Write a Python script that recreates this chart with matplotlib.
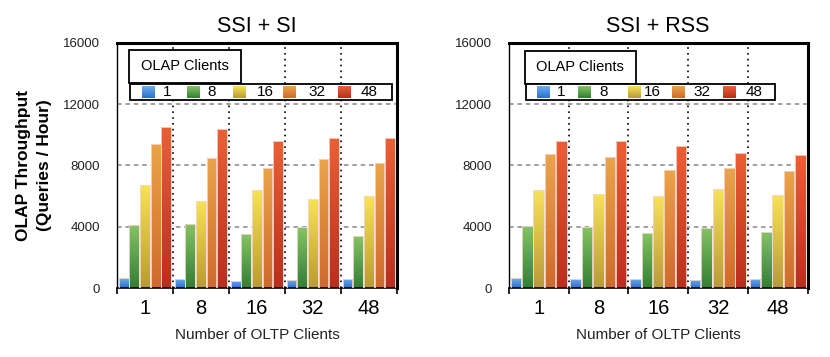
import numpy as np
from matplotlib import pyplot as plt
from matplotlib.colors import to_rgb
from matplotlib.patches import Rectangle

oltp_clients = ["1", "8", "16", "32", "48"]
olap_clients = ["1", "8", "16", "32", "48"]

# OLAP throughput (queries / hour), one list per OLAP client count
ssi_si = {
    "1": [650, 620, 480, 520, 590],
    "8": [4110, 4200, 3500, 3960, 3370],
    "16": [6700, 5680, 6400, 5810, 5980],
    "32": [9400, 8490, 7860, 8420, 8140],
    "48": [10500, 10360, 9600, 9770, 9780],
}
ssi_rss = {
    "1": [650, 610, 600, 540, 600],
    "8": [4050, 3960, 3610, 3920, 3660],
    "16": [6400, 6140, 5980, 6470, 6050],
    "32": [8730, 8560, 7700, 7840, 7640],
    "48": [9620, 9580, 9250, 8820, 8660],
}
panel_titles = ["SSI + SI", "SSI + RSS"]

# top / bottom colours of each bar gradient
grad = {
    "1": ("#6aaef0", "#2f6fcc"),
    "8": ("#86c463", "#327f34"),
    "16": ("#f7e25a", "#b99a3a"),
    "32": ("#eba44a", "#cf6a2c"),
    "48": ("#ec5f35", "#bb2e1e"),
}

plt.rcParams["font.family"] = ["Liberation Sans", "DejaVu Sans"]


def gradient_fill(ax, patch, top, bottom, transform=None, zorder=2):
    x0, y0 = patch.get_x(), patch.get_y()
    w, h = patch.get_width(), patch.get_height()
    t, b = np.array(to_rgb(top)), np.array(to_rgb(bottom))
    frac = np.linspace(0, 1, 64)[:, None]
    img = (t * (1 - frac) + b * frac)[:, None, :]
    kw = {} if transform is None else {"transform": transform}
    im = ax.imshow(img, extent=(x0, x0 + w, y0, y0 + h), aspect="auto",
                   interpolation="bilinear", zorder=zorder, **kw)
    im.set_clip_path(patch)


def panel(ax, data, title, title_box, entry_box, handle_x, label_x):
    x = np.arange(len(oltp_clients))
    width = 0.175
    step = 0.19
    for k, name in enumerate(olap_clients):
        bars = ax.bar(x + (k - 2) * step, data[name], width,
                      facecolor="none", edgecolor="#f4d8cc", linewidth=0.6, zorder=3)
        for p in bars:
            gradient_fill(ax, p, *grad[name])

    ax.set_xlim(-0.5, len(oltp_clients) - 0.5)
    ax.set_ylim(0, 16000)
    ax.set_yticks([0, 4000, 8000, 12000, 16000])
    ax.tick_params(axis="y", length=0, labelsize=9.5, labelcolor="#222222", pad=12)
    ax.set_xticks(x)
    ax.set_xticklabels(oltp_clients, fontsize=14.5)
    ax.set_xticks(np.arange(-0.5, len(oltp_clients)), minor=True)
    ax.tick_params(axis="x", which="major", length=0, pad=8)
    ax.tick_params(axis="x", which="minor", length=4, width=1.2, direction="out")
    ax.set_xlabel("Number of OLTP Clients", fontsize=11, labelpad=7, color="#222222")

    for yv in [4000, 8000, 12000]:
        ax.axhline(yv, color="#888888", linestyle=(0, (3, 2.5)), linewidth=1.1, zorder=1)
    for xv in np.arange(0.5, len(oltp_clients) - 0.5):
        ax.axvline(xv, color="black", linestyle=(0, (1, 2.5)), linewidth=1.2, zorder=4)

    for side in ["top", "right"]:
        ax.spines[side].set_linewidth(2.2)
    ax.spines["left"].set_linewidth(1.0)
    ax.spines["bottom"].set_linewidth(1.2)

    ax.set_title(title, fontsize=15.5, pad=8)

    # legend: "OLAP Clients" title box and a row of entries below it
    bx0, by0, bx1, by1 = title_box
    ax.add_patch(Rectangle((bx0, by0), bx1 - bx0, by1 - by0, transform=ax.transAxes,
                           facecolor="white", edgecolor="black", linewidth=1.3, zorder=5))
    ax.text((bx0 + bx1) / 2, (by0 + by1) / 2, "OLAP Clients", transform=ax.transAxes,
            ha="center", va="center", fontsize=10.5, zorder=6)

    ex0, ey0, ex1, ey1 = entry_box
    ax.add_patch(Rectangle((ex0, ey0), ex1 - ex0, ey1 - ey0, transform=ax.transAxes,
                           facecolor="white", edgecolor="black", linewidth=1.3, zorder=5))
    yc = (ey0 + ey1) / 2
    hw, hh = 0.043, 0.048
    for name, hx, lx in zip(olap_clients, handle_x, label_x):
        sq = Rectangle((hx, yc - hh / 2), hw, hh, transform=ax.transAxes,
                       facecolor="none", edgecolor="none", zorder=6)
        ax.add_patch(sq)
        gradient_fill(ax, sq, *grad[name], transform=ax.transAxes, zorder=6)
        ax.text(lx, yc, name, transform=ax.transAxes, ha="center", va="center",
                fontsize=11, zorder=6)
    ax.set_xlim(-0.5, len(oltp_clients) - 0.5)
    ax.set_ylim(0, 16000)


fig = plt.figure(figsize=(8.3, 3.57), dpi=100)
ax1 = fig.add_axes([0.141, 0.193, 0.337, 0.687])
ax2 = fig.add_axes([0.613, 0.193, 0.360, 0.687])

panel(ax1, ssi_si, panel_titles[0], (0.043, 0.837, 0.443, 0.971), (0.046, 0.767, 0.982, 0.833),
      [0.088, 0.249, 0.414, 0.593, 0.789], [0.179, 0.339, 0.529, 0.714, 0.900])
panel(ax2, ssi_rss, panel_titles[1], (0.054, 0.834, 0.425, 0.966), (0.057, 0.767, 0.890, 0.831),
      [0.094, 0.231, 0.398, 0.546, 0.716], [0.174, 0.318, 0.479, 0.646, 0.820])

ax1.set_ylabel("OLAP Throughput\n(Queries / Hour)", fontsize=12.5, fontweight="bold",
               labelpad=8, linespacing=1.5)

fig.savefig("out.png", dpi=100)
